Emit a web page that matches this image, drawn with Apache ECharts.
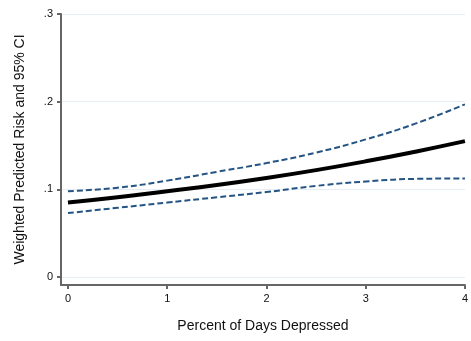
<!DOCTYPE html>
<html>
<head>
<meta charset="utf-8">
<script src="https://cdn.jsdelivr.net/npm/echarts@6/dist/echarts.min.js"></script>
<style>
html, body { margin: 0; padding: 0; background: #fff; }
#chart { width: 471px; height: 341px; }
</style>
</head>
<body>
<div id="chart"></div>
<script>
// percent of days depressed
var xValues = [0, 0.5, 1, 1.5, 2, 2.5, 3, 3.5, 4];
// weighted predicted risk and 95% CI bounds
var predicted = [0.085, 0.091, 0.098, 0.105, 0.113, 0.122, 0.132, 0.143, 0.155];
var upperCI = [0.098, 0.102, 0.110, 0.120, 0.130, 0.142, 0.157, 0.175, 0.197];
var lowerCI = [0.073, 0.079, 0.085, 0.091, 0.097, 0.104, 0.109, 0.112, 0.1125];

var xTicks = [0, 1, 2, 3, 4];
var yTicks = [0, 0.1, 0.2, 0.3];
var yTickLabels = ["0", ".1", ".2", ".3"];

function pairs(ys) {
    return xValues.map(function(x, i) { return [x, ys[i]]; });
}

var chart = echarts.init(document.getElementById("chart"));

var dashStyle = {
    color: "#245483",
    width: 2,
    type: [6, 3]
};

var option = {
    backgroundColor: "#fff",
    animation: false,
    grid: {
        left: 61,
        right: 2,
        top: 14,
        bottom: 56
    },
    xAxis: {
        type: "value",
        min: -0.07,
        max: 4,
        name: "Percent of Days Depressed",
        nameLocation: "middle",
        nameGap: 34,
        nameTextStyle: { fontFamily: "Liberation Sans", fontSize: 14, color: "#111" },
        axisLine: { show: true, onZero: false, lineStyle: { color: "#666", width: 2 } },
        axisTick: { show: true, length: 4, customValues: xTicks, lineStyle: { color: "#666", width: 2 } },
        axisLabel: {
            customValues: xTicks,
            margin: 8,
            fontFamily: "Liberation Sans",
            fontSize: 11,
            color: "#111"
        },
        splitLine: { show: false }
    },
    yAxis: {
        type: "value",
        min: -0.009,
        max: 0.3,
        name: "Weighted Predicted Risk and 95% CI",
        nameLocation: "middle",
        nameGap: 34,
        nameTextStyle: { fontFamily: "Liberation Sans", fontSize: 14, color: "#111" },
        axisLine: { show: true, onZero: false, lineStyle: { color: "#666", width: 2 } },
        axisTick: { show: true, length: 4, customValues: yTicks, lineStyle: { color: "#666", width: 2 } },
        axisLabel: {
            customValues: yTicks,
            margin: 8,
            fontFamily: "Liberation Sans",
            fontSize: 11,
            color: "#111",
            formatter: function(v) {
                var i = yTicks.findIndex(function(t) { return Math.abs(t - v) < 1e-9; });
                return i >= 0 ? yTickLabels[i] : "";
            }
        },
        splitLine: { show: true, lineStyle: { color: "#e6edf3", width: 1 } }
    },
    series: [
        {
            name: "Upper",
            type: "line",
            data: pairs(upperCI),
            smooth: true,
            symbol: "none",
            lineStyle: dashStyle
        },
        {
            name: "Lower",
            type: "line",
            data: pairs(lowerCI),
            smooth: true,
            symbol: "none",
            lineStyle: dashStyle
        },
        {
            name: "Predicted",
            type: "line",
            data: pairs(predicted),
            smooth: true,
            symbol: "none",
            lineStyle: { color: "#000", width: 4 }
        }
    ]
};

chart.setOption(option);
</script>
</body>
</html>
